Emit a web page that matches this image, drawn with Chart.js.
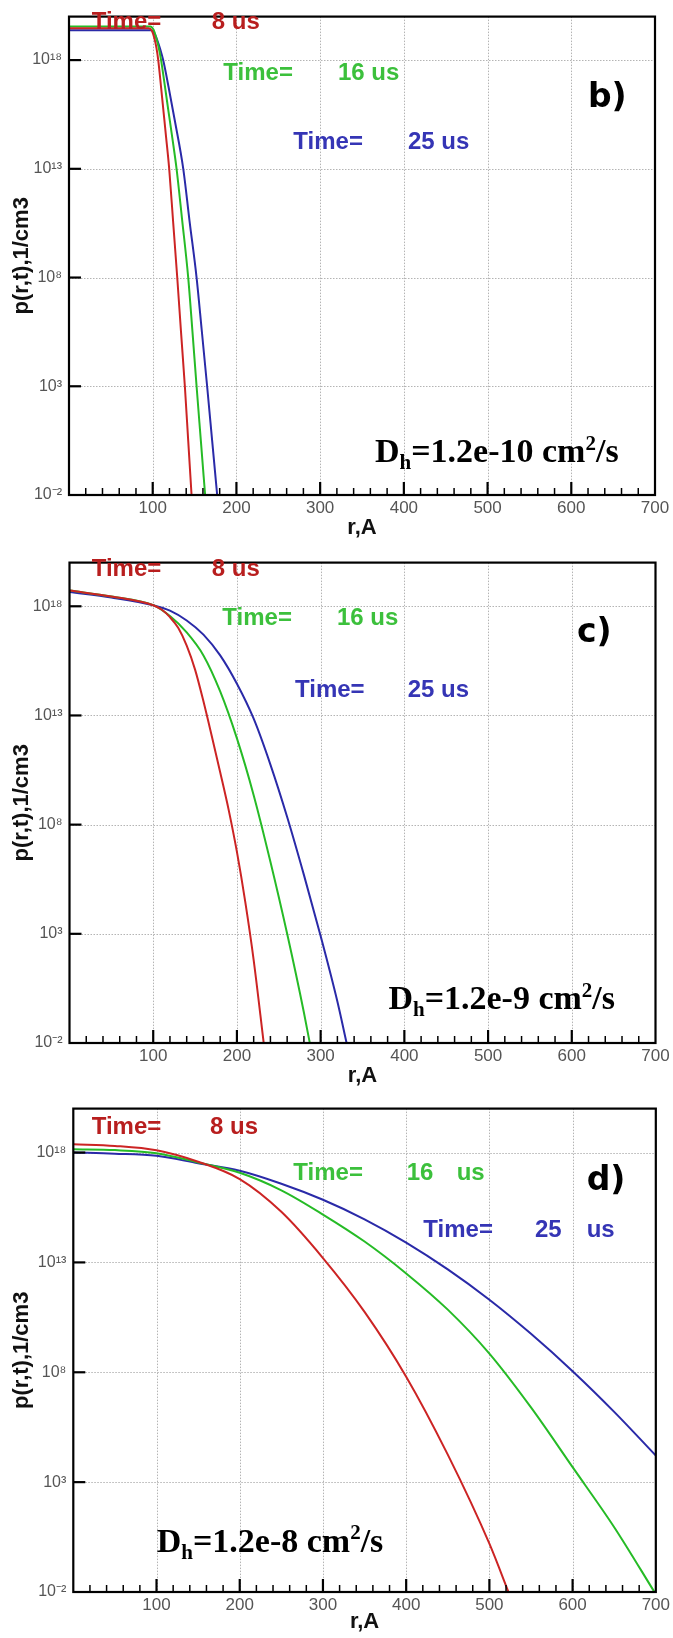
<!DOCTYPE html>
<html>
<head>
<meta charset="utf-8">
<script src="https://cdn.jsdelivr.net/npm/chart.js@4.4.1/dist/chart.umd.min.js"></script>
<style>
  html,body{margin:0;padding:0;background:#fff;}
  body{width:673px;height:1638px;position:relative;overflow:hidden;}
  canvas{position:absolute;left:0;}
</style>
</head>
<body>
<canvas id="cb" width="673" height="546" style="top:0px"></canvas>
<canvas id="cc" width="673" height="546" style="top:546px"></canvas>
<canvas id="cd" width="673" height="546" style="top:1092px"></canvas>
<script>
// ---------- shared axis data ----------
const xTicks = [100, 200, 300, 400, 500, 600, 700];
const yTickExponents = [-2, 3, 8, 13, 18];
const seriesNames = ['Time= 8 us', 'Time= 16 us', 'Time= 25 us'];

// ---------- panel b) Dh=1.2e-10 ----------
const bRedR   = [0, 95, 99, 102, 104.5, 106.6, 110, 113, 116, 119.7, 124.5, 129.3, 133.8, 138.4, 142.4, 146.4];
const bRedP   = [2.95e19, 2.95e19, 2.24e19, 1e19, 3.55e18, 1e18, 5.62e16, 3.98e15, 2.82e14, 1e13, 3.16e10, 1e8, 3.16e5, 1e3, 3.16, 0.01];
const bGreenR = [0, 97, 101, 104, 107, 110, 114, 119, 123.5, 128.5, 135, 142.4, 147.5, 152.4, 157.5, 162.6];
const bGreenP = [3.55e19, 3.55e19, 2.51e19, 1.12e19, 3.98e18, 1e18, 8.91e16, 3.98e15, 2.51e14, 1e13, 5.01e10, 1e8, 3.16e5, 1e3, 3.16, 0.01];
const bBlueR  = [0, 98, 102, 106, 109, 112.5, 119, 126.5, 136.5, 144, 152.4, 158.5, 165, 171, 177];
const bBlueP  = [2.34e19, 2.34e19, 1.78e19, 7.08e18, 3.16e18, 1e18, 5.62e16, 1.58e15, 1e13, 3.98e10, 1e8, 3.98e5, 1e3, 3.16, 0.01];

// ---------- panel c) Dh=1.2e-9 ----------
const cRedR   = [0, 50, 100, 110, 120, 130, 140, 150, 160, 170, 180, 190, 200, 210, 220, 232];
const cRedP   = [5.25e18, 2.82e18, 1.12e18, 7.08e17, 3.16e17, 1e17, 1.58e16, 1.26e15, 4.47e13, 1.12e12, 2.51e10, 5.01e8, 5.62e6, 2.82e4, 63.1, 0.01];
const cGreenR = [0, 50, 100, 120, 140, 160, 180, 200, 220, 240, 260, 280, 290];
const cGreenP = [5.25e18, 2.82e18, 1.12e18, 3.55e17, 6.31e16, 5.62e15, 1.26e14, 8.91e11, 2.24e9, 2e6, 1e3, 0.251, 0.00251];
const cBlueR  = [0, 50, 100, 120, 140, 160, 180, 200, 220, 240, 260, 280, 300, 320, 331];
const cBlueP  = [4.47e18, 2.51e18, 1.12e18, 6.31e17, 2.24e17, 5.01e16, 5.62e15, 2.82e14, 7.08e12, 5.62e10, 2.24e8, 5.01e5, 794, 0.794, 0.01];

// ---------- panel d) Dh=1.2e-8 ----------
const dRedR   = [0, 50, 100, 150, 200, 250, 300, 350, 400, 450, 500, 525];
const dRedP   = [2.4e18, 2e18, 1.26e18, 3.8e17, 6.17e16, 2e15, 1.58e13, 5.62e10, 6.31e7, 1.78e4, 1.58, 0.0063];
const dGreenR = [0, 50, 100, 150, 200, 250, 300, 350, 400, 450, 500, 550, 600, 650, 700];
const dGreenP = [1.41e18, 1.29e18, 9.33e17, 3.55e17, 1.2e17, 1.91e16, 1.51e15, 8.91e13, 3.16e12, 7.08e10, 7.08e8, 2.51e6, 4.79e3, 8.91, 0.0079];
const dBlueR  = [0, 50, 100, 150, 200, 250, 300, 350, 400, 450, 500, 550, 600, 650, 700];
const dBlueP  = [1e18, 8.91e17, 7.08e17, 3.24e17, 1.48e17, 3.8e16, 7.08e15, 9.12e14, 7.94e13, 4.79e12, 2e11, 5.62e9, 1.12e8, 1.58e6, 1.62e4];

// ---------- styling ----------
const LINE_COLORS = ['#cc2424', '#26bb26', '#2a2aa8'];
const TEXT_COLORS = ['#b81e1e', '#3cc03c', '#3535b5'];
const SANS = '"Liberation Sans", Arial, sans-serif';
const SERIF = '"Liberation Serif", "Times New Roman", serif';

const SUP = {'-':'\u207B','0':'\u2070','1':'\u00B9','2':'\u00B2','3':'\u00B3','4':'\u2074','5':'\u2075','6':'\u2076','7':'\u2077','8':'\u2078','9':'\u2079'};
function powLabel(v){
  const e = Math.round(Math.log10(v));
  return '10' + String(e).split('').map(c => SUP[c]).join('');
}
function pts(rs, ps){ return rs.map((r, i) => ({x: r, y: ps[i]})); }

const decor = {
  id: 'decor',
  beforeDatasetsDraw(chart, args, o){
    const {ctx, chartArea: a, scales: {x, y}} = chart;
    ctx.save();
    ctx.strokeStyle = '#b4b4b4';
    ctx.lineWidth = 1;
    ctx.setLineDash([1.5, 1.5]);
    xTicks.forEach(v => {
      if (v >= 700) return;
      const px = Math.round(x.getPixelForValue(v)) + 0.5;
      ctx.beginPath(); ctx.moveTo(px, a.top); ctx.lineTo(px, a.bottom); ctx.stroke();
    });
    yTickExponents.forEach(e => {
      if (e <= -2) return;
      const py = Math.round(y.getPixelForValue(Math.pow(10, e))) + 0.5;
      ctx.beginPath(); ctx.moveTo(a.left, py); ctx.lineTo(a.right, py); ctx.stroke();
    });
    ctx.restore();
  },
  afterDatasetsDraw(chart, args, o){
    const {ctx, chartArea: a, scales: {x, y}} = chart;
    ctx.save();
    ctx.strokeStyle = '#000';
    ctx.lineWidth = 1.5;
    for (let v = 20; v < 700; v += 20) {
      if (v % 100 === 0) continue;
      const px = x.getPixelForValue(v);
      ctx.beginPath(); ctx.moveTo(px, a.bottom); ctx.lineTo(px, a.bottom - 7); ctx.stroke();
    }
    ctx.lineWidth = 2.2;
    xTicks.forEach(v => {
      if (v >= 700) return;
      const px = x.getPixelForValue(v);
      ctx.beginPath(); ctx.moveTo(px, a.bottom); ctx.lineTo(px, a.bottom - 13); ctx.stroke();
    });
    yTickExponents.forEach(e => {
      if (e <= -2) return;
      const py = y.getPixelForValue(Math.pow(10, e));
      ctx.beginPath(); ctx.moveTo(a.left, py); ctx.lineTo(a.left + 12, py); ctx.stroke();
    });
    ctx.lineWidth = 2.2;
    ctx.strokeRect(a.left, a.top, a.right - a.left, a.bottom - a.top);
    ctx.restore();
  },
  afterDraw(chart, args, o){
    const ctx = chart.ctx;
    ctx.save();
    ctx.textBaseline = 'alphabetic';
    ctx.textAlign = 'left';
    o.labels.forEach((lab, i) => {
      ctx.fillStyle = TEXT_COLORS[i];
      ctx.font = 'bold 24px ' + SANS;
      lab.parts.forEach(p => ctx.fillText(p[0], p[1], lab.y));
    });
    ctx.fillStyle = '#000';
    ctx.font = 'bold 33px "DejaVu Sans", sans-serif';
    ctx.fillText(o.letter, o.letterX, o.letterY);
    let xx = o.dhX; const yy = o.dhY; const s = o.dhSize;
    const big = 'bold ' + s + 'px ' + SERIF;
    const small = 'bold ' + Math.round(s * 0.62) + 'px ' + SERIF;
    ctx.font = big; ctx.fillText('D', xx, yy); xx += ctx.measureText('D').width;
    ctx.font = small; ctx.fillText('h', xx, yy + s * 0.2); xx += ctx.measureText('h').width;
    ctx.font = big; const mid = '=1.2e-' + o.dhExp + ' cm'; ctx.fillText(mid, xx, yy); xx += ctx.measureText(mid).width;
    ctx.font = small; ctx.fillText('2', xx, yy - s * 0.36); xx += ctx.measureText('2').width;
    ctx.font = big; ctx.fillText('/s', xx, yy);
    ctx.restore();
  }
};

function makePanel(id, P, red, green, blue){
  const datasets = [red, green, blue].map((d, i) => ({
    label: seriesNames[i],
    data: pts(d[0], d[1]),
    borderColor: LINE_COLORS[i],
    backgroundColor: LINE_COLORS[i],
    borderWidth: 2,
    pointRadius: 0,
    fill: false,
    cubicInterpolationMode: 'monotone'
  }));
  return new Chart(document.getElementById(id), {
    type: 'line',
    data: {datasets},
    plugins: [decor],
    options: {
      responsive: false,
      animation: false,
      devicePixelRatio: 1,
      layout: {padding: {left: 0, top: P.top, right: 673 - P.right, bottom: 0}},
      plugins: {
        legend: {display: false},
        tooltip: {enabled: false},
        decor: P.decor
      },
      scales: {
        x: {
          type: 'linear', min: 0, max: 700,
          afterBuildTicks: s => { s.ticks = xTicks.map(v => ({value: v})); },
          afterFit: s => { s.height = 546 - P.bottom; },
          grid: {display: false, drawTicks: false},
          border: {display: false},
          ticks: {autoSkip: false, maxRotation: 0, color: '#555', padding: P.xTickPad,
                  font: {family: SANS, size: 17}, callback: v => String(v)},
          title: {display: true, text: 'r,A', color: '#111',
                  font: {family: SANS, size: 22, weight: 'bold'},
                  padding: {top: 0, bottom: P.xTitlePad}}
        },
        y: {
          type: 'logarithmic', min: 1e-2, max: 1e20,
          afterBuildTicks: s => { s.ticks = yTickExponents.map(e => ({value: Math.pow(10, e)})); },
          afterFit: s => { s.width = P.left; },
          grid: {display: false, drawTicks: false},
          border: {display: false},
          ticks: {color: '#555', padding: 7, font: {family: SANS, size: 16},
                  callback: v => powLabel(v)},
          title: {display: true, text: 'p(r,t),1/cm3', color: '#111',
                  font: {family: SANS, size: 22, weight: 'bold'},
                  padding: {top: 9, bottom: 0}}
        }
      }
    }
  });
}

makePanel('cb', {left: 69, top: 7, right: 655, bottom: 495, xTickPad: 3, xTitlePad: 5,
  decor: {
    labels: [
      {y: 29, parts: [['Time=', 91.7], ['8 us', 211.7]]},
      {y: 79.5, parts: [['Time=', 223.3], ['16 us', 338]]},
      {y: 148.5, parts: [['Time=', 293.3], ['25 us', 408]]}
    ],
    letter: 'b)', letterX: 588, letterY: 107,
    dhX: 375, dhY: 462, dhSize: 34, dhExp: '10'
  }}, [bRedR, bRedP], [bGreenR, bGreenP], [bBlueR, bBlueP]);

makePanel('cc', {left: 69.5, top: 9.5, right: 655.5, bottom: 497, xTickPad: 3, xTitlePad: 3,
  decor: {
    labels: [
      {y: 30, parts: [['Time=', 91.7], ['8 us', 211.7]]},
      {y: 79, parts: [['Time=', 222.3], ['16 us', 337]]},
      {y: 150.5, parts: [['Time=', 295], ['25 us', 407.7]]}
    ],
    letter: 'c)', letterX: 577, letterY: 96,
    dhX: 388.4, dhY: 463, dhSize: 34, dhExp: '9'
  }}, [cRedR, cRedP], [cGreenR, cGreenP], [cBlueR, cBlueP]);

makePanel('cd', {left: 73.3, top: 14.7, right: 657, bottom: 500, xTickPad: 3, xTitlePad: 3,
  decor: {
    labels: [
      {y: 42, parts: [['Time=', 91.7], ['8 us', 210]]},
      {y: 88, parts: [['Time=', 293.3], ['16', 406.7], ['us', 456.7]]},
      {y: 144.7, parts: [['Time=', 423.3], ['25', 535], ['us', 586.7]]}
    ],
    letter: 'd)', letterX: 586.7, letterY: 98,
    dhX: 156.7, dhY: 459.7, dhSize: 34, dhExp: '8'
  }}, [dRedR, dRedP], [dGreenR, dGreenP], [dBlueR, dBlueP]);
</script>
</body>
</html>
